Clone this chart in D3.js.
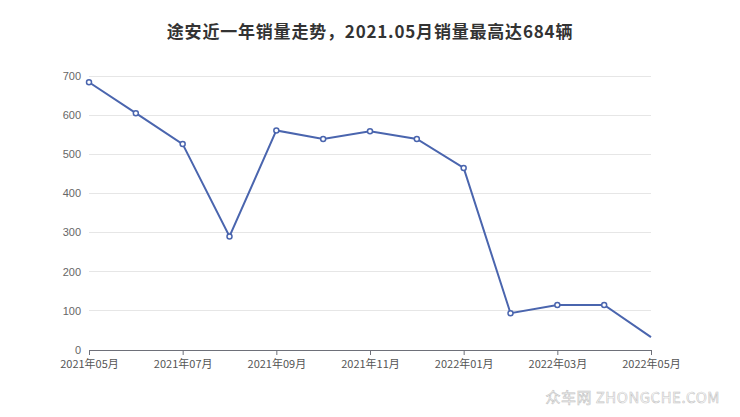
<!DOCTYPE html>
<html><head><meta charset="utf-8">
<script src="https://cdn.jsdelivr.net/npm/d3@7"></script>
<style>body{margin:0;background:#fff;}svg{display:block;font-family:"Noto Sans CJK SC","Liberation Sans",sans-serif;}</style>
</head><body><svg id="c" width="740" height="417"></svg>
<script>
const months = ["2021-05","2021-06","2021-07","2021-08","2021-09","2021-10","2021-11","2021-12","2022-01","2022-02","2022-03","2022-04","2022-05"];
const sales = [684,605,526,290,561,539,559,539,465,94,115,115,33];
const yTicks = [0,100,200,300,400,500,600,700];
const xTickLabels = ["2021年05月","2021年07月","2021年09月","2021年11月","2022年01月","2022年03月","2022年05月"];
const title = "途安近一年销量走势，2021.05月销量最高达684辆";

const svg = d3.select("#c");
const L=89,R=651,T=76,B=350;
const x = d3.scalePoint().domain(months).range([L,R]);
const y = d3.scaleLinear().domain([0,700]).range([B,T]);

svg.append("text").attr("x",370).attr("y",38).attr("text-anchor","middle")
  .attr("font-size",17).attr("font-weight","bold").attr("fill","#333")
  .attr("letter-spacing","0.8px").text(title);

// grid
svg.append("g").selectAll("line").data(yTicks.filter(d=>d>0)).join("line")
  .attr("x1",L).attr("x2",R).attr("y1",d=>y(d)).attr("y2",d=>y(d))
  .attr("stroke","#e6e6e6").attr("stroke-width",1).attr("shape-rendering","crispEdges");

// y labels
svg.append("g").selectAll("text").data(yTicks).join("text")
  .attr("x",81).attr("y",d=>y(d)).attr("dy","0.35em").attr("text-anchor","end")
  .attr("font-size",11).attr("fill","#666").attr("font-family","Liberation Sans, sans-serif").text(d=>d);

// x axis
const tickMonths = months.filter((d,i)=>i%2===0);
const xAxis = d3.axisBottom(x).tickValues(tickMonths).tickSize(5).tickFormat((d,i)=>xTickLabels[i]);
const gx = svg.append("g").attr("transform",`translate(0,${B})`).call(xAxis);
gx.select(".domain").attr("stroke","#6e7079").attr("d",`M${L},0.5H${R}`);
gx.selectAll(".tick line").attr("stroke","#6e7079");
gx.selectAll(".tick text").attr("fill","#555").attr("font-size",11).attr("dy","0.9em")
  .attr("font-family","Noto Sans CJK SC, sans-serif");

// line
const line = d3.line().x((d,i)=>x(months[i])).y(d=>y(d));
svg.append("path").datum(sales).attr("d",line).attr("fill","none")
  .attr("stroke","#4a65ae").attr("stroke-width",2);
svg.append("g").selectAll("circle").data(sales.slice(0,-1)).join("circle")
  .attr("cx",(d,i)=>x(months[i])).attr("cy",d=>y(d)).attr("r",2.5)
  .attr("fill","#fff").attr("stroke","#4a65ae").attr("stroke-width",1.5);

// watermark
svg.append("text").attr("x",720).attr("y",403).attr("text-anchor","end")
  .attr("font-size",15).attr("fill","#fff").attr("stroke","#c4c4c4").attr("stroke-width",0.6)
  .attr("letter-spacing","0.5px")
  .attr("font-family","Noto Sans CJK SC, sans-serif").text("众车网 ZHONGCHE.COM");
</script></body></html>
